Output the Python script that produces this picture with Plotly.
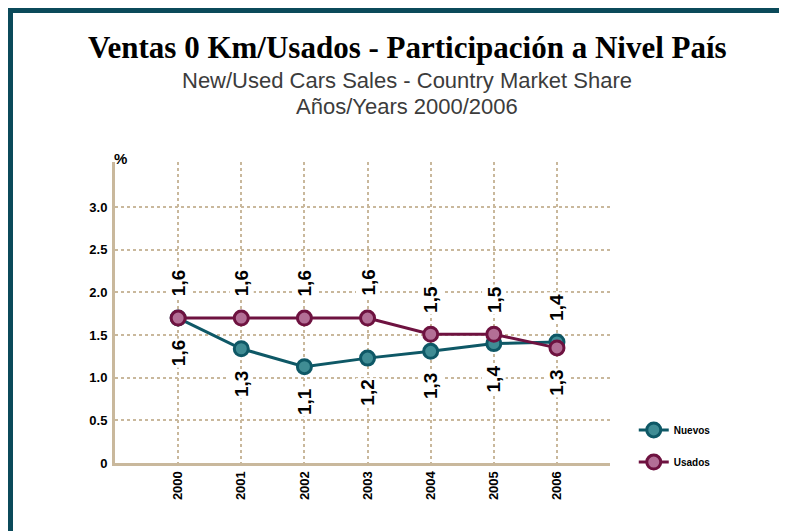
import plotly.graph_objects as go

years = [2000, 2001, 2002, 2003, 2004, 2005, 2006]
nuevos = [1.70, 1.34, 1.13, 1.23, 1.31, 1.40, 1.42]
usados = [1.70, 1.70, 1.70, 1.70, 1.51, 1.51, 1.35]
nuevos_lbl = ["1,6", "1,3", "1,1", "1,2", "1,3", "1,4", "1,4"]
usados_lbl = ["1,6", "1,6", "1,6", "1,6", "1,5", "1,5", "1,3"]
y_ticks = [0, 0.5, 1.0, 1.5, 2.0, 2.5, 3.0]
y_tick_text = ["0", "0.5", "1.0", "1.5", "2.0", "2.5", "3.0"]

TEAL = "#0e5866"
MAROON = "#6e1240"
GRID = "#c9b89c"
SANS = "Liberation Sans, Arial, sans-serif"

fig = go.Figure()
fig.add_trace(go.Scatter(
    x=years, y=nuevos, name="Nuevos", mode="lines+markers",
    line=dict(color=TEAL, width=3),
    marker=dict(size=14, color="#3f8c94", line=dict(color=TEAL, width=3)),
    legend="legend",
))
fig.add_trace(go.Scatter(
    x=years, y=usados, name="Usados", mode="lines+markers",
    line=dict(color=MAROON, width=3),
    marker=dict(size=14, color="#b36f96", line=dict(color=MAROON, width=3)),
    legend="legend2",
))

annotations = []
for x, n, u, nl, ul in zip(years, nuevos, usados, nuevos_lbl, usados_lbl):
    if n > u:
        pairs = [(n, nl, 35), (u, ul, -35)]
    else:
        pairs = [(u, ul, 35), (n, nl, -35)]
    for yv, txt, shift in pairs:
        annotations.append(dict(
            x=x, y=yv, xref="x", yref="y", text=txt, showarrow=False,
            textangle=-90, yshift=shift, bgcolor="white",
            font=dict(family=SANS, size=19, color="black", weight="bold"),
            borderpad=1,
        ))

annotations += [
    dict(xref="paper", yref="paper", x=0.59, y=1.379, yanchor="middle",
         text="Ventas 0 Km/Usados - Participación a Nivel País",
         showarrow=False, font=dict(family="Liberation Serif, serif", size=31, color="black", weight="bold")),
    dict(xref="paper", yref="paper", x=0.59, y=1.272, yanchor="middle",
         text="New/Used Cars Sales - Country Market Share",
         showarrow=False, font=dict(family=SANS, size=22, color="#3c3c3c")),
    dict(xref="paper", yref="paper", x=0.59, y=1.186, yanchor="middle", text="Años/Years 2000/2006",
         showarrow=False, font=dict(family=SANS, size=22, color="#3c3c3c")),
    dict(xref="paper", yref="paper", x=0.0, y=1.013, xanchor="center", yanchor="middle", text="%",
         showarrow=False, xshift=5, font=dict(family=SANS, size=15, color="black", weight="bold")),
]

shapes = [
    dict(type="rect", xref="paper", yref="paper", xsizemode="pixel", ysizemode="pixel",
         xanchor=0, yanchor=1, x0=-107, x1=-102, y0=154, y1=-420,
         fillcolor="#0b4a5a", line=dict(width=0), layer="above"),
    dict(type="rect", xref="paper", yref="paper", xsizemode="pixel", ysizemode="pixel",
         xanchor=0, yanchor=1, x0=-107, x1=700, y0=154, y1=149,
         fillcolor="#0b4a5a", line=dict(width=0), layer="above"),
]

fig.update_layout(
    width=779, height=523,
    margin=dict(l=107, r=177, t=154, b=68),
    paper_bgcolor="white", plot_bgcolor="white",
    showlegend=True,
    legend=dict(x=1.048, y=0.11, xanchor="left", yanchor="middle", bgcolor="rgba(0,0,0,0)",
                font=dict(family=SANS, size=10, color="black", weight="bold"), itemwidth=30),
    legend2=dict(x=1.048, y=0.003, xanchor="left", yanchor="middle", bgcolor="rgba(0,0,0,0)",
                 font=dict(family=SANS, size=10, color="black", weight="bold"), itemwidth=30),
    annotations=annotations,
    shapes=shapes,
    xaxis=dict(range=[1999, 2006.84], tickmode="array", tickvals=years, ticktext=[str(y) for y in years],
               tickangle=-90, showgrid=True, gridcolor=GRID, gridwidth=2, griddash="dot",
               showline=True, linecolor=GRID, linewidth=3, zeroline=False, ticks="",
               tickfont=dict(family=SANS, size=13, color="black", weight="bold")),
    yaxis=dict(range=[0, 3.53], tickmode="array", tickvals=y_ticks, ticktext=y_tick_text,
               showgrid=True, gridcolor=GRID, gridwidth=2, griddash="dot",
               showline=True, linecolor=GRID, linewidth=3, zeroline=False, ticks="",
               ticklabelstandoff=2,
               tickfont=dict(family=SANS, size=13, color="black", weight="bold")),
)

fig.write_html("out.html")
